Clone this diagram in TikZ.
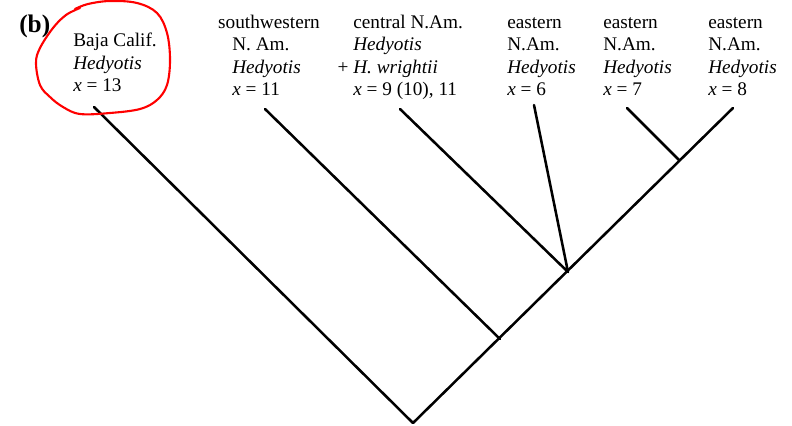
\documentclass[tikz,border=0pt]{standalone}
\usepackage{fontspec}
\setmainfont{Liberation Serif}
\usetikzlibrary{positioning}
\tikzset{
	taxon/.style={align=left, anchor=base west, inner sep=0pt, font=\fontsize{13.7}{16.1}\selectfont},
	branch/.style={line width=1.8pt, line cap=round, line join=round},
	scribble/.style={red, line width=1.5pt, line cap=round}
	}

\begin{document}
\begin{tikzpicture}[x=0.025cm, y=-0.025cm]
	\useasboundingbox (0,0) rectangle (792,426);

	% panel letter
	\node[anchor=base west, inner sep=0pt, font=\fontsize{18}{20}\selectfont\bfseries] (panel) at (19,33) {(b)};

	% taxa (placed at the baseline of their last line)
	\node[taxon] (baja) at (73,92) {Baja Calif.\\\textit{Hedyotis}\\\textit{x} = 13};
	\node[taxon] (swest) at (232,96) {\hspace*{-10pt}southwestern\\N. Am.\\\textit{Hedyotis}\\\textit{x} = 11};
	\node[taxon] (central) at (353,96) {central N.Am.\\\textit{Hedyotis}\\\llap{+ }\textit{H. wrightii}\\\textit{x} = 9 (10), 11};
	\node[taxon] (eastA) at (507,96) {eastern\\N.Am.\\\textit{Hedyotis}\\\textit{x} = 6};
	\node[taxon] (eastB) at (603,96) {eastern\\N.Am.\\\textit{Hedyotis}\\\textit{x} = 7};
	\node[taxon] (eastC) at (708,96) {eastern\\N.Am.\\\textit{Hedyotis}\\\textit{x} = 8};

	% branch tips
	\coordinate (tipbaja) at (94,107);
	\coordinate (tipswest) at (265,109);
	\coordinate (tipcentral) at (400,109);
	\coordinate (tipeastA) at (534,105);
	\coordinate (tipeastB) at (627,108);
	\coordinate (tipeastC) at (733,108);
	% inner nodes
	\coordinate (root) at (413,423);
	\coordinate (split2) at (500,339);
	\coordinate (split3) at (568,272);
	\coordinate (split5) at (679,160);

	% tree
	\draw[branch] (tipbaja) -- (root) -- (tipeastC);
	\draw[branch] (tipswest) -- (split2);
	\draw[branch] (tipcentral) -- (split3) -- (tipeastA);
	\draw[branch] (tipeastB) -- (split5);

	% red ring round the first taxon
	\draw[scribble] plot[smooth, tension=0.6] coordinates {(75,9) (88,4) (110,1) (137,3) (157,13) (167,33) (170,60) (167,85) (157,100) (140,109) (110,113) (80,114) (63,107) (50,97) (40,85) (36,63) (40,48) (53,28) (66,15) (80,8)};

\end{tikzpicture}
\end{document}
